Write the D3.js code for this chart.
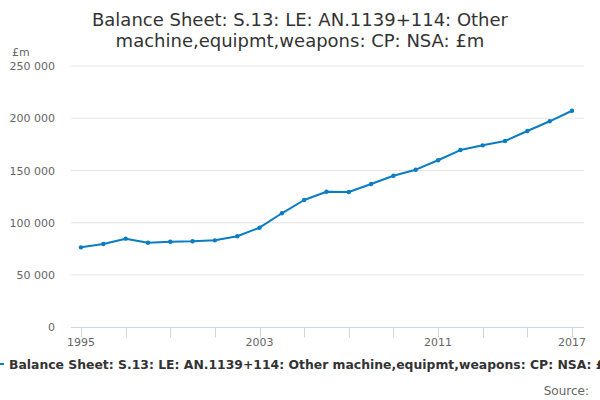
<!DOCTYPE html>
<html><head><meta charset="utf-8">
<script src="https://cdn.jsdelivr.net/npm/d3@7"></script>
<style>body{margin:0;background:#fff;}svg{display:block;font-family:"DejaVu Sans",sans-serif;}</style>
</head><body>
<svg id="c" width="600" height="400"></svg>
<script>
const years = [1995,1996,1997,1998,1999,2000,2001,2002,2003,2004,2005,2006,2007,2008,2009,2010,2011,2012,2013,2014,2015,2016,2017];
const values = [76500,79700,84800,80900,81900,82300,83200,87100,95300,109100,121800,129700,129400,137100,145000,150800,159800,169600,174100,178200,187800,197100,207200];
const yTicks = [0,50000,100000,150000,200000,250000];
const xLabelYears = [1995,2003,2011,2017];
const titleLines = ["Balance Sheet: S.13: LE: AN.1139+114: Other","machine,equipmt,weapons: CP: NSA: £m"];
const seriesName = "Balance Sheet: S.13: LE: AN.1139+114: Other machine,equipmt,weapons: CP: NSA: £m";

const svg = d3.select("#c");
const x = d3.scaleLinear().domain([1995,2017]).range([81,572]);
const y = d3.scaleLinear().domain([0,250000]).range([327.3,66]);
const fmt = v => d3.format(",")(v).replace(/,/g," ");

// title
svg.append("g").selectAll("text").data(titleLines).join("text")
  .attr("x",300).attr("y",(d,i)=>26+i*20.5).attr("text-anchor","middle")
  .attr("font-size",18).attr("fill","#333").text(d=>d);

// gridlines
svg.append("g").selectAll("line").data(yTicks.filter(d=>d>0)).join("line")
  .attr("x1",71).attr("x2",584).attr("y1",d=>y(d)).attr("y2",d=>y(d))
  .attr("stroke","#e6e6e6").attr("stroke-width",1);

// y labels
svg.append("g").selectAll("text").data(yTicks).join("text")
  .attr("x",55).attr("y",d=>y(d)+4).attr("text-anchor","end")
  .attr("font-size",11).attr("fill","#666").text(d=>fmt(d));
svg.append("text").attr("x",12).attr("y",56).attr("font-size",11).attr("fill","#666").text("£m");

// x axis
const xa = svg.append("g");
xa.append("line").attr("x1",71).attr("x2",584).attr("y1",327.5).attr("y2",327.5).attr("stroke","#ccd6eb");
xa.selectAll("line.t").data(d3.range(1995,2018,2)).join("line").attr("class","t")
  .attr("x1",d=>Math.round(x(d))+0.5).attr("x2",d=>Math.round(x(d))+0.5).attr("y1",327.5).attr("y2",337.5)
  .attr("stroke","#ccd6eb");
xa.selectAll("text").data(xLabelYears).join("text")
  .attr("x",d=>x(d)).attr("y",346).attr("text-anchor","middle")
  .attr("font-size",11).attr("fill","#666").text(d=>d);

// line
const line = d3.line().x((d,i)=>x(years[i])).y(d=>y(d));
svg.append("path").datum(values).attr("d",line).attr("fill","none")
  .attr("stroke","#0a7dc2").attr("stroke-width",2).attr("stroke-linejoin","round");
svg.append("g").selectAll("circle").data(values).join("circle")
  .attr("cx",(d,i)=>x(years[i])).attr("cy",d=>y(d)).attr("r",2.2).attr("fill","#0a7dc2");

// legend
svg.append("line").attr("x1",-12).attr("x2",4).attr("y1",364).attr("y2",364).attr("stroke","#0a7dc2").attr("stroke-width",2);
svg.append("text").attr("x",9).attr("y",368.5).attr("font-size",12.4).attr("font-weight","bold").attr("fill","#333").text(seriesName);

// source
svg.append("text").attr("x",589).attr("y",395).attr("text-anchor","end").attr("font-size",12).attr("fill","#666").text("Source:");
</script>
</body></html>
